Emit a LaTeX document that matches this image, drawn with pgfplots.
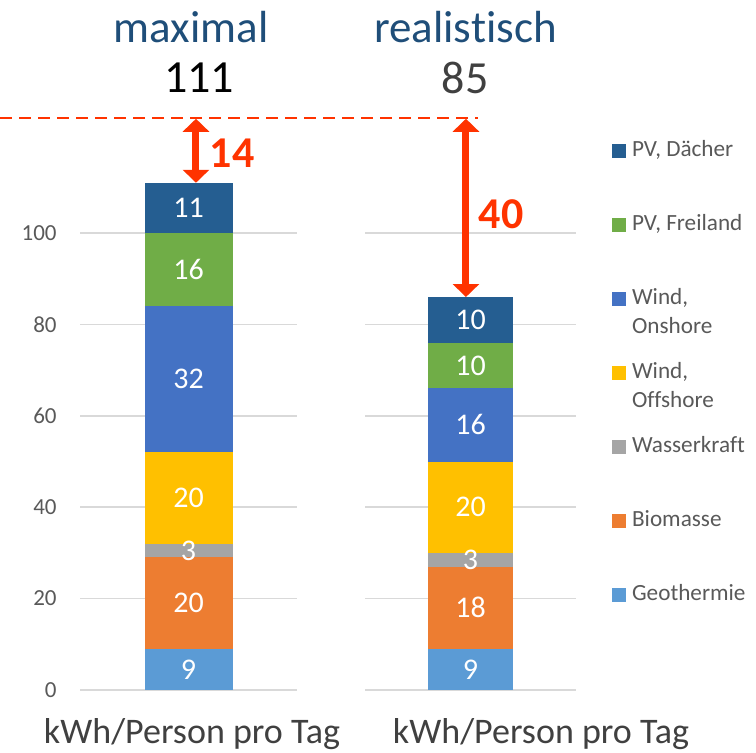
\documentclass[border=0pt]{standalone}
\usepackage{pgfplots}
\pgfplotsset{compat=1.18}
\usetikzlibrary{arrows.meta}
\usepackage{fontspec}
\setmainfont{Carlito}[Ligatures=NoCommon]
\definecolor{cGeo}{HTML}{5B9BD5}
\definecolor{cBio}{HTML}{ED7D31}
\definecolor{cWas}{HTML}{A5A5A5}
\definecolor{cOff}{HTML}{FFC000}
\definecolor{cOn}{HTML}{4472C4}
\definecolor{cFrei}{HTML}{70AD47}
\definecolor{cDach}{HTML}{255E91}
\definecolor{cTitle}{HTML}{1F4E79}
\definecolor{cRed}{HTML}{FF3300}
\definecolor{cGrid}{HTML}{D9D9D9}
\definecolor{cText}{HTML}{595959}
\definecolor{cDark}{HTML}{404040}
\pgfplotsset{
  panel/.style={
    scale only axis, width=#1, height=285.6pt,
    anchor=south west,
    ymin=0, ymax=125, xmin=-1, xmax=1,
    axis line style={draw=none},
    ytick={0,20,40,60,80,100}, xtick=\empty,
    major tick length=0pt,
    ymajorgrids, grid style={cGrid, line width=0.9pt},
    yticklabel style={font=\fontsize{11.5}{13}\selectfont, text=cText, inner sep=0pt, xshift=-11.5pt},
    /pgf/number format/assume math mode=true,
    clip=false,
  },
  sq/.style={fill=#1, draw=none, legend image code/.code={\fill[#1] (0pt,-3.5pt) rectangle (7pt,3.5pt);}},
  lbl/.style={only marks, mark=*, mark size=0pt, mark options={draw=none,fill=none},
    nodes near coords, point meta=explicit symbolic,
    every node near coord/.style={anchor=center, text=white, font=\fontsize{15}{18}\selectfont}},
  xlab/.style={xlabel={kWh/Person pro Tag}, xlabel style={at={(axis description cs:#1,-0.0775)}, anchor=center, font=\fontsize{18}{21}\selectfont, text=cDark}},
}
\begin{document}
\begin{tikzpicture}
\useasboundingbox (0,0) rectangle (378pt,376.5pt);
% ---------- left panel: maximal ----------
\begin{axis}[panel=108.5pt, at={(40pt,31.5pt)}, ybar stacked, bar width=44pt, xlab=0.516]
\addplot[sq=cGeo]  coordinates {(0,9)};
\addplot[sq=cBio]  coordinates {(0,20)};
\addplot[sq=cWas]  coordinates {(0,3)};
\addplot[sq=cOff]  coordinates {(0,20)};
\addplot[sq=cOn]   coordinates {(0,32)};
\addplot[sq=cFrei] coordinates {(0,16)};
\addplot[sq=cDach] coordinates {(0,11)};
\draw[cRed, line width=3.5pt, {Triangle[width=13pt,length=6.5pt]}-{Triangle[width=13pt,length=6.5pt]}] (axis cs:0.069,125) -- (axis cs:0.069,111);
\end{axis}
\begin{axis}[panel=108.5pt, at={(40pt,31.5pt)}, hide axis]
\addplot[lbl] coordinates {(0,4.5)[9] (0,19)[20] (0,30.5)[3] (0,42)[20] (0,68)[32] (0,92)[16] (0,105.5)[11]};
\end{axis}
% ---------- right panel: realistisch ----------
\begin{axis}[panel=105.5pt, at={(182.5pt,31.5pt)}, ybar stacked, bar width=42.5pt, yticklabels=\empty, xlab=0.834,
  legend style={at={(1.171,0.965)}, anchor=north west, draw=none, fill=none, inner sep=0pt, outer sep=0pt, row sep=25pt,
    font=\fontsize{11.6}{14.5}\selectfont, text=cText,
    nodes={inner xsep=3pt, inner ysep=0pt, text height=9pt, text depth=3pt}},
  legend cell align=left, reverse legend]
\addplot[sq=cGeo]  coordinates {(0,9)};
\addlegendentry{Geothermie}
\addplot[sq=cBio]  coordinates {(0,18)};
\addlegendentry{Biomasse}
\addplot[sq=cWas]  coordinates {(0,3)};
\addlegendentry{Wasserkraft}
\addplot[sq=cOff]  coordinates {(0,20)};
\addlegendentry{\smash{\begin{tabular}[t]{@{}l@{}}Wind,\\Offshore\end{tabular}}}
\addplot[sq=cOn]   coordinates {(0,16)};
\addlegendentry{\smash{\begin{tabular}[t]{@{}l@{}}Wind,\\Onshore\end{tabular}}}
\addplot[sq=cFrei] coordinates {(0,10)};
\addlegendentry{PV, Freiland}
\addplot[sq=cDach] coordinates {(0,10)};
\addlegendentry{PV, Dächer}
\draw[cRed, line width=3.5pt, {Triangle[width=13pt,length=6.5pt]}-{Triangle[width=13pt,length=6.5pt]}] (axis cs:-0.043,125) -- (axis cs:-0.043,86);
\end{axis}
\begin{axis}[panel=105.5pt, at={(182.5pt,31.5pt)}, hide axis]
\addplot[lbl] coordinates {(0,4.5)[9] (0,18)[18] (0,28.5)[3] (0,40)[20] (0,58)[16] (0,71)[10] (0,81)[10]};
\end{axis}
% ---------- annotations ----------
\draw[cRed, line width=1.3pt, dash pattern=on 6pt off 3.5pt] (0pt,317.5pt) -- (239pt,317.5pt);
\node[text=cTitle, font=\fontsize{22.5}{26}\selectfont] at (95.5pt,362.75pt) {maximal};
\node[text=black, font=\fontsize{23}{26}\selectfont] at (99.5pt,337.75pt) {111};
\node[text=cTitle, font=\fontsize{22.5}{26}\selectfont] at (232.75pt,362.75pt) {realist\kern0pt isch};
\node[text=cDark, font=\fontsize{23}{26}\selectfont] at (232.5pt,337.75pt) {85};
\node[text=cRed, font=\bfseries\fontsize{22}{26}\selectfont] at (116pt,299.75pt) {14};
\node[text=cRed, font=\bfseries\fontsize{22}{26}\selectfont] at (250.5pt,269.5pt) {40};
\end{tikzpicture}
\end{document}
